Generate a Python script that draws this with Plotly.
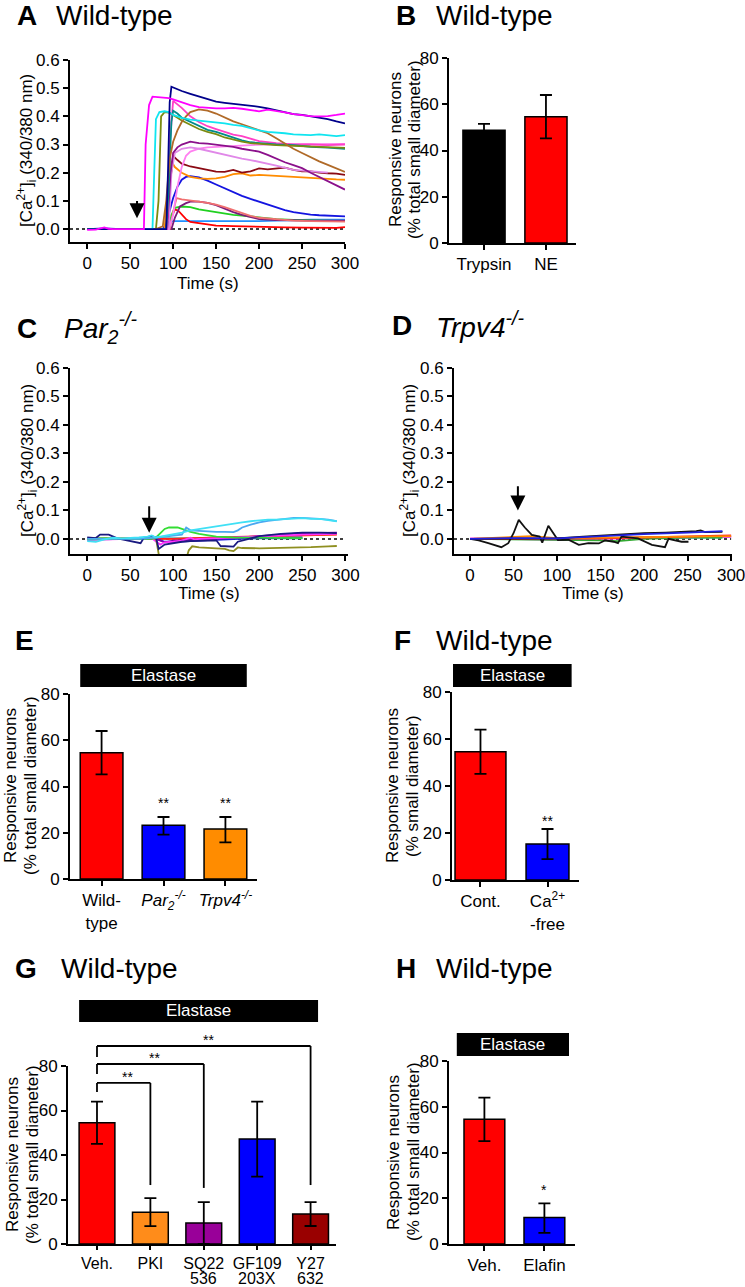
import plotly.graph_objects as go

FONT = "Liberation Sans, Arial, Helvetica, sans-serif"
W, H = 745, 1287

# ================= DATA =================
# ---- Panel A: wild-type Ca2+ traces (time s, ratio) ----
A_T_MAG = [0, 10, 20, 25, 30, 40, 50, 60, 66, 68, 72, 76, 85, 95, 100, 110, 120, 130, 140, 150, 160, 170, 180, 190, 200, 210, 220, 230, 240, 250, 260, 270, 280, 290, 300]
A_V_MAG = [-0.003, -0.002, 0.006, 0.001, 0.0, 0.0, 0.0, -0.001, 0.0, 0.30, 0.44, 0.47, 0.468, 0.465, 0.46, 0.45, 0.44, 0.433, 0.43, 0.428, 0.428, 0.43, 0.427, 0.422, 0.418, 0.424, 0.42, 0.414, 0.408, 0.404, 0.401, 0.4, 0.401, 0.405, 0.41]
A_T_NAVY = [0, 20, 40, 60, 80, 92, 94, 96, 98, 105, 110, 120, 130, 140, 150, 160, 170, 180, 190, 200, 210, 220, 230, 240, 250, 260, 270, 280, 290, 300]
A_V_NAVY = [0, 0.001, 0, 0, 0, 0, 0.2, 0.45, 0.505, 0.495, 0.49, 0.48, 0.47, 0.46, 0.452, 0.448, 0.445, 0.44, 0.438, 0.434, 0.428, 0.422, 0.415, 0.408, 0.405, 0.4, 0.397, 0.39, 0.382, 0.375]
A_T_CYAN = [0, 20, 40, 60, 76, 78, 80, 84, 90, 95, 100, 110, 120, 130, 140, 150, 160, 170, 180, 190, 200, 210, 220, 230, 240, 250, 260, 270, 280, 290, 300]
A_V_CYAN = [0, 0, 0, 0, 0, 0.2, 0.39, 0.415, 0.418, 0.415, 0.405, 0.395, 0.388, 0.385, 0.382, 0.38, 0.375, 0.37, 0.366, 0.358, 0.35, 0.345, 0.343, 0.34, 0.336, 0.335, 0.333, 0.336, 0.334, 0.33, 0.333]
A_T_OLIVE = [0, 20, 40, 60, 80, 83, 86, 90, 95, 100, 110, 120, 130, 140, 150, 160, 170, 180, 190, 200, 220, 240, 260, 280, 300]
A_V_OLIVE = [0, 0, 0, 0, 0, 0.1, 0.4, 0.415, 0.413, 0.405, 0.385, 0.37, 0.355, 0.345, 0.337, 0.325, 0.317, 0.31, 0.305, 0.302, 0.298, 0.295, 0.292, 0.29, 0.288]
A_T_TEAL = [0, 20, 40, 60, 80, 92, 95, 98, 100, 105, 110, 120, 130, 140, 150, 160, 170, 180, 190, 200, 220, 240, 260, 280, 300]
A_V_TEAL = [0, 0, 0, 0, 0, 0, 0.15, 0.38, 0.42, 0.41, 0.395, 0.38, 0.365, 0.352, 0.345, 0.335, 0.325, 0.315, 0.308, 0.305, 0.3, 0.298, 0.292, 0.289, 0.285]
A_T_PINK = [0, 20, 40, 60, 80, 93, 96, 100, 110, 120, 130, 140, 150, 160, 170, 180, 190, 200, 220, 240, 260, 280, 300]
A_V_PINK = [0, 0, 0, 0, 0, 0, 0.3, 0.455, 0.43, 0.4, 0.38, 0.365, 0.355, 0.345, 0.335, 0.33, 0.32, 0.312, 0.305, 0.3, 0.3, 0.298, 0.3]
A_T_BROWN = [0, 20, 40, 60, 80, 88, 92, 96, 100, 105, 110, 115, 120, 130, 140, 150, 160, 170, 180, 190, 200, 210, 220, 230, 240, 250, 260, 270, 280, 290, 300]
A_V_BROWN = [0, 0, 0, 0, 0, 0.01, 0.1, 0.25, 0.31, 0.35, 0.38, 0.4, 0.415, 0.425, 0.42, 0.41, 0.395, 0.382, 0.372, 0.362, 0.352, 0.34, 0.322, 0.302, 0.285, 0.27, 0.255, 0.24, 0.228, 0.215, 0.203]
A_T_PURPLE = [0, 20, 40, 60, 80, 93, 97, 100, 105, 110, 120, 130, 140, 150, 160, 170, 180, 190, 200, 210, 220, 230, 240, 250, 260, 270, 280, 290, 300]
A_V_PURPLE = [0, 0, 0, 0, 0, 0, 0.2, 0.27, 0.29, 0.3, 0.31, 0.305, 0.303, 0.3, 0.295, 0.292, 0.285, 0.28, 0.275, 0.263, 0.25, 0.237, 0.227, 0.216, 0.2, 0.185, 0.17, 0.155, 0.14]
A_T_VIOLET = [0, 20, 40, 60, 80, 95, 98, 102, 110, 120, 130, 140, 150, 160, 170, 180, 190, 200, 220, 240, 260, 280]
A_V_VIOLET = [0, 0, 0, 0, 0, 0, 0.2, 0.27, 0.285, 0.29, 0.285, 0.278, 0.27, 0.265, 0.257, 0.25, 0.245, 0.239, 0.225, 0.21, 0.205, 0.2]
A_T_LPINK = [0, 20, 40, 60, 80, 95, 100, 105, 110, 115, 120, 130, 140, 150, 170, 190, 210, 230, 250, 270, 290, 300]
A_V_LPINK = [0, 0, 0, 0, 0, 0, 0.05, 0.15, 0.22, 0.26, 0.275, 0.285, 0.29, 0.292, 0.295, 0.298, 0.3, 0.3, 0.302, 0.3, 0.3, 0.302]
A_T_MAROON = [0, 20, 40, 60, 80, 92, 96, 100, 105, 110, 120, 130, 140, 150, 160, 170, 180, 190, 200, 210, 220, 230, 240, 250, 260, 270, 280, 290, 300]
A_V_MAROON = [0, 0, 0, 0, 0, 0, 0.15, 0.26, 0.245, 0.232, 0.222, 0.215, 0.21, 0.204, 0.203, 0.21, 0.2, 0.205, 0.215, 0.212, 0.215, 0.218, 0.21, 0.205, 0.205, 0.2, 0.198, 0.197, 0.192]
A_T_ORANGE = [0, 20, 40, 60, 80, 90, 94, 98, 102, 110, 120, 130, 140, 150, 160, 170, 180, 190, 200, 210, 220, 230, 240, 250, 260, 270, 280, 290, 300]
A_V_ORANGE = [0, 0, 0, 0, 0, 0, 0.15, 0.24, 0.22, 0.2, 0.185, 0.18, 0.178, 0.18, 0.185, 0.195, 0.198, 0.19, 0.192, 0.19, 0.188, 0.186, 0.185, 0.183, 0.18, 0.178, 0.177, 0.176, 0.175]
A_T_BLUE = [0, 20, 40, 60, 80, 88, 92, 96, 100, 105, 110, 115, 120, 130, 140, 150, 160, 170, 180, 190, 200, 210, 220, 230, 240, 250, 260, 270, 280, 290, 300]
A_V_BLUE = [0, 0.002, 0, 0, 0, 0, 0.02, 0.07, 0.11, 0.15, 0.175, 0.185, 0.188, 0.183, 0.172, 0.158, 0.145, 0.13, 0.118, 0.107, 0.097, 0.086, 0.076, 0.067, 0.06, 0.055, 0.051, 0.049, 0.047, 0.046, 0.045]
A_T_SALMON = [0, 20, 40, 60, 80, 96, 100, 104, 110, 120, 130, 140, 150, 160, 170, 180, 190, 200, 220, 240, 260, 280, 300]
A_V_SALMON = [0, 0, 0, 0, 0, 0, 0.06, 0.11, 0.105, 0.1, 0.097, 0.093, 0.087, 0.078, 0.068, 0.058, 0.047, 0.04, 0.035, 0.03, 0.028, 0.027, 0.026]
A_T_PURPLE2 = [0, 20, 40, 60, 80, 98, 102, 108, 115, 120, 130, 140, 150, 160, 170, 180, 190, 200, 220, 240, 260, 280, 300]
A_V_PURPLE2 = [0, 0, 0, 0, 0, 0, 0.04, 0.08, 0.092, 0.097, 0.097, 0.093, 0.085, 0.072, 0.06, 0.05, 0.042, 0.035, 0.032, 0.03, 0.03, 0.03, 0.03]
A_T_GREEN = [0, 20, 40, 60, 80, 95, 98, 102, 110, 120, 130, 140, 150, 160, 170, 180, 190, 200, 220, 240, 260, 280, 300]
A_V_GREEN = [0, 0, 0, 0, 0, 0, 0.05, 0.075, 0.08, 0.078, 0.07, 0.065, 0.06, 0.055, 0.05, 0.048, 0.045, 0.04, 0.035, 0.032, 0.03, 0.03, 0.028]
A_T_RED = [0, 20, 40, 60, 80, 95, 98, 102, 106, 110, 115, 120, 130, 140, 150, 170, 190, 210, 230, 250, 270, 290, 300]
A_V_RED = [0, 0, 0, 0, 0, 0, 0.04, 0.07, 0.065, 0.05, 0.035, 0.025, 0.02, 0.015, 0.012, 0.01, 0.008, 0.006, 0.006, 0.005, 0.005, 0.004, 0.007]
A_T_DODGER = [0, 20, 40, 60, 80, 93, 95, 100, 120, 140, 160, 180, 200, 220, 240, 260, 280, 300]
A_V_DODGER = [0, 0, 0, 0, 0, 0, 0.025, 0.028, 0.028, 0.028, 0.027, 0.028, 0.028, 0.03, 0.032, 0.033, 0.033, 0.033]

# ---- Panel C: Par2-/- traces ----
C_T_CYAN = [0, 10, 20, 30, 40, 50, 60, 70, 75, 80, 90, 100, 110, 120, 130, 140, 150, 160, 170, 180, 190, 200, 210, 220, 230, 240, 250, 260, 270, 280, 290]
C_V_CYAN = [-0.008, -0.01, -0.002, 0.004, 0.002, 0.003, 0.005, 0.008, 0.012, 0.005, 0.01, 0.015, 0.022, 0.03, 0.035, 0.04, 0.045, 0.05, 0.055, 0.058, 0.062, 0.065, 0.068, 0.068, 0.07, 0.072, 0.073, 0.07, 0.07, 0.066, 0.062]
C_T_LBLUE = [0, 20, 40, 60, 80, 100, 110, 115, 120, 130, 140, 150, 160, 170, 175, 180, 190, 200, 210, 220, 230, 240, 250, 260, 270, 280, 290]
C_V_LBLUE = [0, 0, 0, 0, 0.005, 0.01, 0.015, 0.04, 0.03, 0.028, 0.026, 0.025, 0.025, 0.024, 0.03, 0.04, 0.05, 0.058, 0.063, 0.067, 0.072, 0.074, 0.074, 0.071, 0.07, 0.068, 0.062]
C_T_GREEN = [0, 20, 40, 60, 75, 80, 85, 90, 95, 100, 105, 110, 120, 130, 140, 150, 170, 190, 210, 230, 250]
C_V_GREEN = [0, 0.002, 0, 0.001, 0, 0.005, 0.02, 0.035, 0.04, 0.041, 0.04, 0.035, 0.025, 0.018, 0.012, 0.008, 0.005, 0.004, 0.005, 0.003, 0.003]
C_T_OLIVE = [0, 20, 40, 60, 75, 80, 84, 100, 115, 118, 122, 130, 140, 150, 160, 165, 170, 175, 180, 200, 220, 240, 260, 280, 290]
C_V_OLIVE = [0, 0, 0, 0.002, 0.003, 0, -0.07, -0.07, -0.07, -0.04, -0.026, -0.03, -0.032, -0.033, -0.035, -0.04, -0.043, -0.03, -0.032, -0.033, -0.032, -0.03, -0.029, -0.026, -0.025]
C_T_NAVY = [0, 10, 15, 25, 35, 45, 55, 62, 66, 75, 80, 83, 90, 100, 110, 120, 140, 150, 155, 170, 175, 200, 225, 250, 270, 290]
C_V_NAVY = [0.005, 0.003, 0.015, 0.015, 0.002, -0.005, -0.012, -0.015, 0.005, 0.01, 0.005, -0.035, -0.02, -0.015, -0.01, -0.008, -0.005, -0.005, -0.025, -0.027, -0.01, 0.01, 0.018, 0.022, 0.022, 0.02]
C_T_MAG = [0, 25, 50, 75, 85, 90, 100, 110, 120, 125, 130, 150, 175, 200, 225, 250, 270, 290]
C_V_MAG = [0, -0.002, 0, 0.002, -0.02, -0.012, -0.01, -0.006, 0.004, -0.002, 0, 0.002, 0.005, 0.008, 0.012, 0.015, 0.017, 0.018]
C_T_RED = [0, 50, 100, 150, 200, 250, 290]
C_V_RED = [0, 0, 0, 0.005, 0.01, 0.013, 0.015]
C_T_PURPLE = [0, 40, 80, 90, 100, 150, 200, 250, 290]
C_V_PURPLE = [-0.003, 0, 0, -0.012, -0.006, 0, 0.01, 0.02, 0.022]
C_T_ORANGE = [0, 50, 100, 150, 200, 250, 290]
C_V_ORANGE = [0, 0.002, 0, 0.003, 0.008, 0.012, 0.016]
C_T_BLUE = [0, 50, 80, 90, 100, 150, 200, 250]
C_V_BLUE = [0, 0, 0, -0.01, -0.01, -0.003, 0.003, 0.005]
C_T_TEAL = [0, 50, 100, 150, 200, 250]
C_V_TEAL = [0.002, 0.001, 0.002, 0.002, 0.003, 0.002]

# ---- Panel D: Trpv4-/- traces ----
D_T_BLACK = [0, 10, 21, 36, 44, 50, 56, 63, 71, 80, 83, 90, 101, 113, 125, 136, 148, 155, 165, 170, 174, 193, 209, 224, 228, 243, 251]
D_V_BLACK = [0, -0.005, -0.015, -0.029, -0.015, 0.02, 0.067, 0.04, 0.014, 0.008, -0.013, 0.046, -0.004, -0.003, -0.021, -0.015, -0.016, -0.005, -0.01, -0.015, 0.008, 0.002, -0.021, -0.029, 0.0, -0.01, -0.01]
D_T_BLACK2 = [0, 50, 100, 130, 150, 175, 200, 225, 250, 260, 265, 270, 290]
D_V_BLACK2 = [0, 0, 0.002, 0.008, 0.012, 0.017, 0.02, 0.022, 0.025, 0.027, 0.03, 0.024, 0.025]
D_T_BLUE = [0, 50, 100, 150, 200, 250, 290]
D_V_BLUE = [0, 0.003, 0.002, 0.01, 0.017, 0.022, 0.027]
D_T_ORANGE = [0, 50, 70, 100, 150, 200, 250, 300]
D_V_ORANGE = [0, 0.006, 0.01, 0.003, 0.005, 0.008, 0.01, 0.01]
D_T_RED = [0, 100, 150, 200, 250, 300]
D_V_RED = [0, 0, 0.002, 0.005, 0.009, 0.012]
D_T_GREEN = [0, 100, 150, 170, 200, 250, 290]
D_V_GREEN = [0, -0.002, -0.005, -0.008, 0, 0.005, 0.005]
D_T_MAG = [0, 50, 100, 150, 200, 250, 300]
D_V_MAG = [0.002, 0, -0.003, 0, 0.003, 0.006, 0.008]
D_T_CYAN = [0, 100, 150, 200, 250, 290]
D_V_CYAN = [0, 0.002, 0.001, 0.002, 0.005, 0.005]
D_T_PURPLE = [0, 100, 200, 300]
D_V_PURPLE = [0, 0, 0.005, 0.008]

TIME_TICKS = [0, 50, 100, 150, 200, 250, 300]
RATIO_TICKS = [0.0, 0.1, 0.2, 0.3, 0.4, 0.5, 0.6]
PCT_TICKS = [0, 20, 40, 60, 80]

# ---- Bar panels (mean, +err, -err) ----
B_CATS = ["Trypsin", "NE"]
B_MEAN = [48.8, 54.6]
B_ERR_UP = [2.7, 9.4]
B_ERR_DN = [2.7, 9.4]

E_CATS = ["Wild-<br>type", "<i>Par<sub>2</sub><sup>-/-</sup></i>", "<i>Trpv4<sup>-/-</sup></i>"]
E_MEAN = [54.6, 23.2, 21.6]
E_ERR_UP = [9.4, 3.6, 5.2]
E_ERR_DN = [9.4, 4.0, 5.8]
E_SIG = ["", "**", "**"]

F_CATS = ["Cont.", "Ca<sup>2+</sup><br>-free"]
F_MEAN = [54.6, 15.3]
F_ERR_UP = [9.4, 6.4]
F_ERR_DN = [9.4, 6.4]
F_SIG = ["", "**"]

G_CATS = ["Veh.", "PKI", "SQ22<br>536", "GF109<br>203X", "Y27<br>632"]
G_MEAN = [54.5, 14.3, 9.4, 47.2, 13.5]
G_ERR_UP = [9.5, 6.3, 9.4, 16.8, 5.3]
G_ERR_DN = [9.5, 6.3, 9.4, 16.9, 5.4]
G_COMPARE = [1, 2, 4]          # indices compared with Veh.
G_COMPARE_SIG = ["**", "**", "**"]

H_CATS = ["Veh.", "Elafin"]
H_MEAN = [54.5, 11.6]
H_ERR_UP = [9.5, 6.2]
H_ERR_DN = [9.5, 6.7]
H_SIG = ["", "*"]

# ================= FIGURE =================
fig = go.Figure()


def xdom(a, b):
    return [a / W, b / W]


def ydom(top, bot):
    return [1 - bot / H, 1 - top / H]


AXIS_STYLE = dict(showline=True, linecolor="black", linewidth=2, ticks="outside",
                  ticklen=5, tickwidth=1.5, tickcolor="black", showgrid=False,
                  zeroline=False, fixedrange=True, automargin=False,
                  ticklabeloverflow="allow",
                  tickfont=dict(family=FONT, size=17, color="black"))

layout_axes = {}


def set_axes(n, xd, yd, xr, yr, xkw, ykw):
    sx = "xaxis" if n == 1 else f"xaxis{n}"
    sy = "yaxis" if n == 1 else f"yaxis{n}"
    xid = "x" if n == 1 else f"x{n}"
    yid = "y" if n == 1 else f"y{n}"
    layout_axes[sx] = dict(AXIS_STYLE, domain=xd, range=xr, anchor=yid)
    layout_axes[sx].update(xkw)
    layout_axes[sy] = dict(AXIS_STYLE, domain=yd, range=yr, anchor=xid)
    layout_axes[sy].update(ykw)


time_x = dict(tickvals=TIME_TICKS)
ratio_y = dict(tickvals=RATIO_TICKS, tickformat=".1f")
pct_y = dict(tickvals=PCT_TICKS)

# G labels: first line as tick text, second line placed tighter below
G_FIRST = [c.split("<br>")[0] for c in G_CATS]
G_SECOND = [c.split("<br>")[1] if "<br>" in c else "" for c in G_CATS]
G_LABEL_SIZE = 16

# Panel geometry
set_axes(1, xdom(70, 345), ydom(60, 242), [-20, 300], [-0.046, 0.6], time_x, ratio_y)
set_axes(3, xdom(70, 348), ydom(368, 554), [-20, 303], [-0.053, 0.6], time_x, ratio_y)
set_axes(4, xdom(454, 732), ydom(368, 554), [-18.4, 301], [-0.053, 0.6], time_x, ratio_y)

set_axes(2, xdom(449, 576), ydom(58, 243), [-0.565, 1.485], [0, 80],
         dict(tickvals=list(range(len(B_CATS))), ticktext=B_CATS), pct_y)
set_axes(5, xdom(70, 257), ydom(694, 879), [-0.51, 2.51], [0, 80],
         dict(tickvals=list(range(len(E_CATS))), ticktext=E_CATS), pct_y)
set_axes(6, xdom(452, 579), ydom(692, 880), [-0.425, 1.47], [0, 80],
         dict(tickvals=list(range(len(F_CATS))), ticktext=F_CATS), pct_y)
set_axes(7, xdom(68, 336), ydom(1066, 1244), [-0.543, 4.476], [0, 80],
         dict(tickvals=list(range(len(G_CATS))), ticktext=G_FIRST, ticklen=4,
              tickfont=dict(family=FONT, size=G_LABEL_SIZE, color="black")), pct_y)
set_axes(8, xdom(449, 575), ydom(1061, 1244), [-0.59, 1.51], [0, 80],
         dict(tickvals=list(range(len(H_CATS))), ticktext=H_CATS), pct_y)

LW = 1.8


def add_lines(series, n, x0, x1):
    xid = "x" if n == 1 else f"x{n}"
    yid = "y" if n == 1 else f"y{n}"
    fig.add_trace(go.Scatter(x=[x0, x1], y=[0, 0], mode="lines", xaxis=xid, yaxis=yid,
                             line=dict(color="black", width=1.5, dash="dot"),
                             hoverinfo="skip"))
    for t, v, c in series:
        fig.add_trace(go.Scatter(x=t, y=v, mode="lines", xaxis=xid, yaxis=yid,
                                 line=dict(color=c, width=LW)))


add_lines([
    (A_T_DODGER, A_V_DODGER, "#2090FF"),
    (A_T_RED, A_V_RED, "#FF0000"),
    (A_T_GREEN, A_V_GREEN, "#20D020"),
    (A_T_PURPLE2, A_V_PURPLE2, "#7A1A7A"),
    (A_T_SALMON, A_V_SALMON, "#F07070"),
    (A_T_BLUE, A_V_BLUE, "#1414E0"),
    (A_T_ORANGE, A_V_ORANGE, "#FF8C00"),
    (A_T_MAROON, A_V_MAROON, "#8B0A14"),
    (A_T_LPINK, A_V_LPINK, "#FF80F0"),
    (A_T_VIOLET, A_V_VIOLET, "#E088E8"),
    (A_T_PURPLE, A_V_PURPLE, "#8B108B"),
    (A_T_PINK, A_V_PINK, "#FF40C8"),
    (A_T_TEAL, A_V_TEAL, "#008B8B"),
    (A_T_OLIVE, A_V_OLIVE, "#7A8B10"),
    (A_T_BROWN, A_V_BROWN, "#B06A28"),
    (A_T_CYAN, A_V_CYAN, "#10E5F0"),
    (A_T_NAVY, A_V_NAVY, "#00008B"),
    (A_T_MAG, A_V_MAG, "#FF00FF"),
], 1, -20, 300)

add_lines([
    (C_T_TEAL, C_V_TEAL, "#008B8B"),
    (C_T_ORANGE, C_V_ORANGE, "#FF8C00"),
    (C_T_RED, C_V_RED, "#FF2020"),
    (C_T_BLUE, C_V_BLUE, "#2020DD"),
    (C_T_PURPLE, C_V_PURPLE, "#8800AA"),
    (C_T_MAG, C_V_MAG, "#FF33FF"),
    (C_T_OLIVE, C_V_OLIVE, "#8F8F20"),
    (C_T_GREEN, C_V_GREEN, "#33DD33"),
    (C_T_NAVY, C_V_NAVY, "#1A1A80"),
    (C_T_LBLUE, C_V_LBLUE, "#4AA8F0"),
    (C_T_CYAN, C_V_CYAN, "#3FE0F5"),
], 3, -20, 300)

add_lines([
    (D_T_PURPLE, D_V_PURPLE, "#8800AA"),
    (D_T_CYAN, D_V_CYAN, "#30D0E0"),
    (D_T_MAG, D_V_MAG, "#FF33FF"),
    (D_T_GREEN, D_V_GREEN, "#33AA33"),
    (D_T_RED, D_V_RED, "#FF2020"),
    (D_T_ORANGE, D_V_ORANGE, "#FF8C00"),
    (D_T_BLACK, D_V_BLACK, "#111111"),
    (D_T_BLACK2, D_V_BLACK2, "#111111"),
    (D_T_BLUE, D_V_BLUE, "#2020E0"),
], 4, -18.4, 300)


def add_bars(n, mean, up, dn, colors, width):
    xid = f"x{n}"
    yid = f"y{n}"
    fig.add_trace(go.Bar(x=list(range(len(mean))), y=mean, xaxis=xid, yaxis=yid,
                         width=width, marker=dict(color=colors, line=dict(color="black", width=1.5)),
                         error_y=dict(type="data", symmetric=False, array=up, arrayminus=dn,
                                      color="black", thickness=1.8, width=6)))


add_bars(2, B_MEAN, B_ERR_UP, B_ERR_DN, ["#000000", "#FF0000"], 0.68)
add_bars(5, E_MEAN, E_ERR_UP, E_ERR_DN, ["#FF0000", "#0000FF", "#FF8C00"], 0.69)
add_bars(6, F_MEAN, F_ERR_UP, F_ERR_DN, ["#FF0000", "#0000FF"], [0.76, 0.64])
add_bars(7, G_MEAN, G_ERR_UP, G_ERR_DN, ["#FF0000", "#FF8C1A", "#990099", "#0000FF", "#990000"], 0.67)
add_bars(8, H_MEAN, H_ERR_UP, H_ERR_DN, ["#FF0000", "#0000FF"], 0.68)

shapes = []
annotations = []


def text(x, y, s, size=17, bold=False, italic=False, anchor="left", color="black", **kw):
    if bold:
        s = f"<b>{s}</b>"
    if italic:
        s = f"<i>{s}</i>"
    d = dict(x=x, y=y, text=s, showarrow=False, xanchor=anchor, yanchor="middle",
             font=dict(family=FONT, size=size, color=color))
    d.setdefault("xref", "paper")
    d.setdefault("yref", "paper")
    d.update(kw)
    annotations.append(d)


def P(px, py):
    return px / W, 1 - py / H


# Panel titles
TS = 28
for letter, lx, tx, ty, title, ital in [
    ("A", 15, 54, 16, "Wild-type", False),
    ("B", 394, 434, 16, "Wild-type", False),
    ("C", 15, 62, 328, "Par<sub>2</sub><sup>-/-</sup>", True),
    ("D", 390, 434, 325, "Trpv4<sup>-/-</sup>", True),
    ("E", 13, None, 640, "", False),
    ("F", 392, 434, 640, "Wild-type", False),
    ("G", 13, 59, 968, "Wild-type", False),
    ("H", 394, 434, 968, "Wild-type", False),
]:
    x, y = P(lx, ty)
    text(x, y, letter, size=TS, bold=True)
    if tx is not None:
        x, y = P(tx, ty)
        text(x, y, title, size=TS, italic=ital)

# Y-axis titles
CA_TITLE = "[Ca<sup>2+</sup>]<sub>i</sub> (340/380 nm)"
for px, py in [(27, 151), (27, 461), (409, 461)]:
    x, y = P(px, py)
    text(x, y, CA_TITLE, size=17, anchor="center", textangle=-90)
RESP1 = "Responsive neurons"
RESP2 = "(% total small diameter)"
RESP2_F = "(% small diameter)"
for x1, x2, py, s2 in [(395, 414, 150, RESP2), (10, 30, 786, RESP2), (392, 412, 786, RESP2_F),
                       (12, 32, 1155, RESP2), (393, 413, 1152, RESP2)]:
    x, y = P(x1, py)
    text(x, y, RESP1, size=17, anchor="center", textangle=-90)
    x, y = P(x2, py)
    text(x, y, s2, size=17, anchor="center", textangle=-90)

# second lines of G category labels
for i, s in enumerate(G_SECOND):
    if s:
        annotations.append(dict(x=i, y=1 - 1278 / H, xref="x7", yref="paper", text=s,
                                showarrow=False, xanchor="center", yanchor="middle",
                                font=dict(family=FONT, size=G_LABEL_SIZE, color="black")))

# X-axis titles
for px, py in [(208, 283), (209, 593), (593, 593)]:
    x, y = P(px, py)
    text(x, y, "Time (s)", size=17, anchor="center")

# Stimulus arrows
for xr, yr, tx, tip, tail in [("x", "y", 58, 0.038, 0.105),
                              ("x3", "y3", 72, 0.022, 0.12),
                              ("x4", "y4", 55, 0.1, 0.19)]:
    annotations.append(dict(x=tx, y=tip, ax=tx, ay=tail, xref=xr, yref=yr, axref=xr, ayref=yr,
                            text="", showarrow=True, arrowhead=2, arrowsize=1.5,
                            arrowwidth=2, arrowcolor="black", standoff=0, startstandoff=0))


# Elastase boxes (data units: y from lo to hi, x span in category units)
def elastase(n, xa, xb, lo, hi):
    shapes.append(dict(type="rect", xref=f"x{n}", yref=f"y{n} domain", x0=xa, x1=xb,
                       y0=lo / 80, y1=hi / 80, fillcolor="black", line=dict(width=0),
                       layer="above"))
    annotations.append(dict(x=(xa + xb) / 2, y=(lo + hi) / 160, xref=f"x{n}", yref=f"y{n} domain",
                            text="Elastase", showarrow=False, xanchor="center", yanchor="middle",
                            font=dict(family=FONT, size=17, color="white")))


elastase(5, -0.345, 2.345, 83.0, 93.0)
elastase(6, -0.41, 1.36, 82.1, 91.9)
elastase(7, -0.335, 4.14, 99.8, 109.7)
elastase(8, -0.46, 1.41, 82.2, 92.2)


# significance stars
def stars(n, sig, ys):
    for i, s in enumerate(sig):
        if s:
            annotations.append(dict(x=i, y=ys / 80, xref=f"x{n}", yref=f"y{n} domain", text=s,
                                    showarrow=False, xanchor="center", yanchor="middle",
                                    yshift=-3, font=dict(family=FONT, size=14, color="black")))


stars(5, E_SIG, 34.2)
stars(6, F_SIG, 26.4)
stars(8, H_SIG, 24.9)

# brackets in G
BR_GEOM = [(72.4, 68.3, 26.5), (80.9, 76.4, 25.2), (89.0, 84.0, 26.5)]
for (top, lbot, rbot), j, s in zip(BR_GEOM, G_COMPARE, G_COMPARE_SIG):
    for xa, ya, xb, yb in [(0, lbot, 0, top), (0, top, j, top), (j, top, j, rbot)]:
        shapes.append(dict(type="line", xref="x7", yref="y7 domain", x0=xa, x1=xb,
                           y0=ya / 80, y1=yb / 80, line=dict(color="black", width=1.8)))
    annotations.append(dict(x=j / 2 + 0.08, y=top / 80, xref="x7", yref="y7 domain", text=s,
                            showarrow=False, xanchor="center", yanchor="bottom", yshift=-4,
                            font=dict(family=FONT, size=14, color="black")))

fig.update_layout(width=W, height=H, margin=dict(l=0, r=0, t=0, b=0),
                  paper_bgcolor="white", plot_bgcolor="white", showlegend=False,
                  font=dict(family=FONT, color="black", size=17),
                  shapes=shapes, annotations=annotations, **layout_axes)

fig.write_html("out.html", config={"displayModeBar": False},
               post_script="document.body.style.margin='0';document.body.style.padding='0';"
                           "document.body.style.overflow='hidden';")
